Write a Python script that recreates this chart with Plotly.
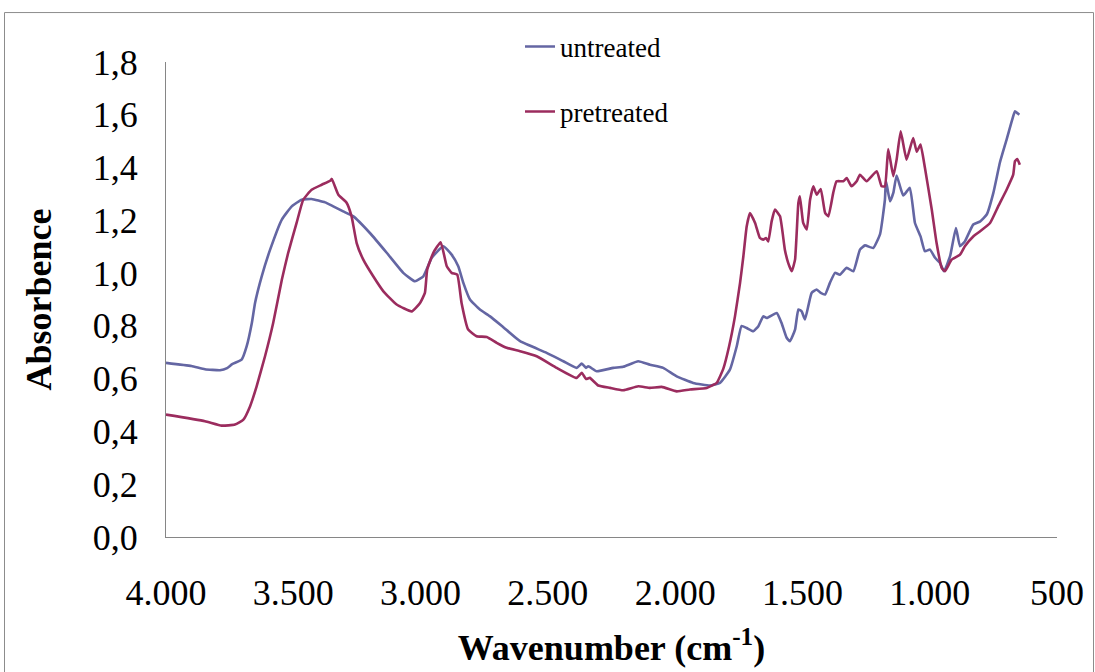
import plotly.graph_objects as go

# Untreated spectrum (wavenumber cm-1, absorbance)
untreated_wn = [4000, 3900, 3847, 3788, 3760, 3740, 3703, 3683, 3663, 3650, 3624, 3591, 3545,
                3506, 3467, 3428, 3375, 3343, 3304, 3264, 3199, 3133, 3068, 3022, 2989, 2956,
                2911, 2878, 2852, 2832, 2806, 2767, 2727, 2675, 2609, 2505, 2439, 2387, 2367,
                2350, 2341, 2308, 2243, 2204, 2145, 2099, 2047, 1994, 1929, 1863, 1824, 1785,
                1758, 1739, 1719, 1693, 1673, 1654, 1640, 1601, 1582, 1562, 1549, 1529, 1516,
                1503, 1490, 1464, 1444, 1428, 1411, 1392, 1372, 1353, 1326, 1300, 1274, 1254,
                1222, 1195, 1176, 1172, 1156, 1143, 1130, 1104, 1078, 1058, 1036, 1019, 999,
                979, 960, 944, 920, 897, 881, 862, 829, 803, 776, 750, 724, 698, 678, 665, 648]
untreated_abs = [0.660, 0.648, 0.636, 0.632, 0.640, 0.655, 0.672, 0.723, 0.810, 0.888, 0.988, 1.089, 1.203,
                 1.253, 1.278, 1.281, 1.268, 1.253, 1.234, 1.215, 1.152, 1.077, 1.001, 0.969, 0.988, 1.058,
                 1.102, 1.070, 1.026, 0.963, 0.900, 0.862, 0.836, 0.795, 0.742, 0.698, 0.666, 0.641, 0.657,
                 0.641, 0.647, 0.628, 0.641, 0.645, 0.666, 0.653, 0.641, 0.609, 0.584, 0.574, 0.584, 0.634,
                 0.723, 0.800, 0.792, 0.780, 0.799, 0.836, 0.830, 0.849, 0.811, 0.755, 0.742, 0.786, 0.862,
                 0.855, 0.824, 0.925, 0.938, 0.925, 0.919, 0.963, 1.001, 0.994, 1.020, 1.007, 1.089, 1.105,
                 1.095, 1.148, 1.278, 1.350, 1.272, 1.304, 1.370, 1.294, 1.323, 1.190, 1.139, 1.083, 1.089,
                 1.058, 1.039, 1.007, 1.064, 1.171, 1.102, 1.120, 1.184, 1.195, 1.222, 1.304, 1.420, 1.506, 1.575, 1.613, 1.600]

# Pretreated spectrum
pretreated_wn = [4000, 3847, 3781, 3729, 3696, 3670, 3644, 3611, 3579, 3545, 3520, 3487, 3461,
                 3428, 3388, 3355, 3349, 3323, 3290, 3271, 3251, 3225, 3186, 3146, 3094, 3035,
                 3002, 2983, 2974, 2950, 2921, 2897, 2878, 2856, 2839, 2813, 2780, 2740, 2701,
                 2662, 2609, 2544, 2465, 2387, 2367, 2350, 2335, 2302, 2256, 2204, 2145, 2099,
                 2053, 1994, 1942, 1876, 1837, 1811, 1788, 1765, 1745, 1732, 1719, 1706, 1686,
                 1667, 1654, 1643, 1634, 1621, 1608, 1588, 1569, 1556, 1542, 1529, 1516, 1510,
                 1497, 1483, 1470, 1457, 1444, 1428, 1411, 1398, 1379, 1366, 1340, 1326, 1307,
                 1287, 1274, 1248, 1208, 1189, 1176, 1163, 1143, 1130, 1114, 1091, 1065, 1051,
                 1036, 1019, 992, 973, 953, 940, 914, 881, 862, 829, 803, 763, 731, 698, 672,
                 665, 656, 646]
pretreated_abs = [0.464, 0.439, 0.422, 0.426, 0.445, 0.495, 0.571, 0.685, 0.811, 0.975, 1.077, 1.190, 1.278,
                  1.316, 1.335, 1.350, 1.357, 1.297, 1.266, 1.215, 1.114, 1.051, 0.988, 0.931, 0.881, 0.855,
                  0.887, 0.925, 1.013, 1.077, 1.117, 1.026, 1.001, 0.994, 0.887, 0.786, 0.761, 0.758, 0.736,
                  0.717, 0.704, 0.685, 0.641, 0.603, 0.622, 0.599, 0.603, 0.574, 0.565, 0.556, 0.571, 0.565,
                  0.569, 0.552, 0.559, 0.565, 0.584, 0.637, 0.723, 0.836, 0.963, 1.064, 1.177, 1.228, 1.190,
                  1.133, 1.127, 1.133, 1.120, 1.196, 1.241, 1.215, 1.089, 1.039, 1.007, 1.051, 1.266, 1.291,
                  1.190, 1.165, 1.278, 1.329, 1.297, 1.319, 1.228, 1.215, 1.304, 1.348, 1.348, 1.360, 1.329,
                  1.348, 1.373, 1.348, 1.386, 1.329, 1.329, 1.470, 1.367, 1.430, 1.537, 1.430, 1.512, 1.460,
                  1.487, 1.400, 1.241, 1.114, 1.020, 1.007, 1.051, 1.070, 1.102, 1.139, 1.158, 1.190, 1.253, 1.316, 1.373,
                  1.424, 1.432, 1.411]

x_ticks = [4000, 3500, 3000, 2500, 2000, 1500, 1000, 500]
y_ticks = [0.0, 0.2, 0.4, 0.6, 0.8, 1.0, 1.2, 1.4, 1.6, 1.8]

W, H = 1095, 672
L, R, T, B = 166, 1057, 62, 537.5

def px_x(px):
    return (px - L) / (R - L)

def px_y(py):
    return (B - py) / (B - T)

FONT = "Liberation Serif"
fig = go.Figure()
fig.add_trace(go.Scatter(x=untreated_wn, y=untreated_abs, mode="lines", name="untreated",
                         line=dict(color="#6466A3", width=2.6, shape="spline", smoothing=0.4),
                         legend="legend", showlegend=True))
fig.add_trace(go.Scatter(x=pretreated_wn, y=pretreated_abs, mode="lines", name="pretreated",
                         line=dict(color="#9B2C5E", width=2.6, shape="spline", smoothing=0.4),
                         legend="legend2", showlegend=True))

legend_common = dict(font=dict(family=FONT, size=27, color="black"), bgcolor="rgba(0,0,0,0)",
                     xanchor="left", yanchor="middle", itemwidth=30)
fig.update_layout(
    width=W, height=H,
    showlegend=True,
    margin=dict(l=L, r=W - R, t=T, b=H - B, pad=0),
    paper_bgcolor="white", plot_bgcolor="white",
    separators=",.",
    font=dict(family=FONT, color="black"),
    legend=dict(x=px_x(520), y=px_y(47), visible=True, **legend_common),
    legend2=dict(x=px_x(520), y=px_y(112), visible=True, **legend_common),
    xaxis=dict(range=[4000, 500], tickvals=x_ticks, tickformat=",.0f",
               showgrid=False, zeroline=False, showline=True, linecolor="#868686", linewidth=1,
               ticks="", tickfont=dict(family=FONT, size=36, color="black"), ticklabelstandoff=24,
               title=dict(text="<b>Wavenumber (cm<sup>-1</sup>)</b>",
                          font=dict(family=FONT, size=36, color="black"), standoff=22)),
    yaxis=dict(range=[0, 1.8], tickvals=y_ticks, tickformat=".1f",
               showgrid=False, zeroline=False, showline=True, linecolor="#868686", linewidth=1,
               ticks="", tickfont=dict(family=FONT, size=36, color="black"), ticklabelstandoff=20,
               title=dict(text="<b>Absorbence</b>",
                          font=dict(family=FONT, size=36, color="black"), standoff=30)),
    shapes=[dict(type="rect", xref="paper", yref="paper",
                 x0=px_x(4.5), x1=px_x(1093.5), y0=px_y(700), y1=px_y(12.5),
                 line=dict(color="#8C8C8C", width=1), layer="below")],
)

fig.write_html("out.html")
